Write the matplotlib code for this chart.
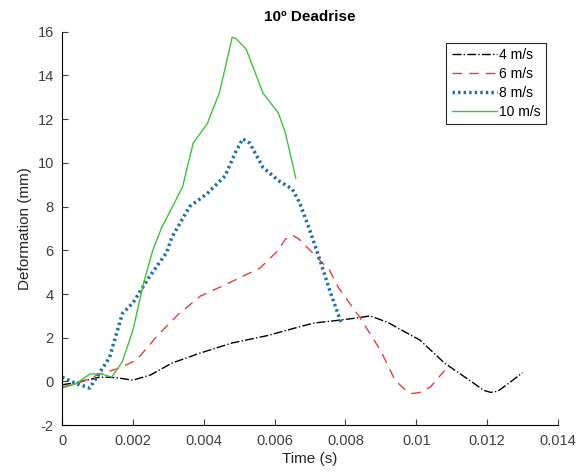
import matplotlib.pyplot as plt

plt.rcParams['font.family'] = ['Liberation Sans', 'DejaVu Sans']
plt.rcParams['axes.unicode_minus'] = False

# 4 m/s
t4 = [0, 0.0004, 0.0008, 0.00106, 0.0015, 0.002, 0.0025, 0.0031, 0.0039, 0.0048,
      0.0058, 0.0067, 0.0071, 0.0078, 0.0083, 0.0087, 0.0092, 0.0097, 0.0101, 0.0108,
      0.0115, 0.0119, 0.0121, 0.0123, 0.0126, 0.013]
d4 = [-0.15, -0.05, 0.1, 0.2, 0.18, 0.06, 0.3, 0.84, 1.3, 1.76,
      2.1, 2.5, 2.67, 2.8, 2.9, 3.0, 2.7, 2.25, 1.9, 0.84,
      0.06, -0.4, -0.5, -0.45, -0.1, 0.4]

# 6 m/s
t6 = [0, 0.0004, 0.0008, 0.00106, 0.0016, 0.0021, 0.00275, 0.0033, 0.0039, 0.0047,
      0.0056, 0.0061, 0.0063, 0.0065, 0.0067, 0.007, 0.00755, 0.0078, 0.0084, 0.009,
      0.0094, 0.0097, 0.0099, 0.0101, 0.0104, 0.0108]
d6 = [-0.25, -0.1, 0.15, 0.34, 0.6, 0.98, 2.2, 3.1, 3.9, 4.5,
      5.2, 6.0, 6.5, 6.7, 6.5, 6.0, 5.1, 4.3, 2.95, 1.4,
      0.06, -0.4, -0.55, -0.5, -0.25, 0.5]

# 8 m/s
t8 = [0, 0.0004, 0.00078, 0.00106, 0.00134, 0.0017, 0.002, 0.00247, 0.00295, 0.0031,
      0.0036, 0.0041, 0.0046, 0.0049, 0.0051, 0.0053, 0.00567, 0.0061, 0.0065, 0.0067,
      0.007, 0.00727, 0.00755, 0.0079]
d8 = [0.2, -0.1, -0.3, 0.4, 1.1, 3.1, 3.6, 4.8, 5.9, 6.6,
      8.0, 8.6, 9.4, 10.5, 11.1, 10.9, 9.8, 9.2, 8.8, 8.2,
      6.9, 5.6, 4.2, 2.6]

# 10 m/s
t10 = [0, 0.0004, 0.00078, 0.0011, 0.0014, 0.0017, 0.002, 0.0023, 0.00256, 0.0028,
       0.0034, 0.0037, 0.0041, 0.00444, 0.0047, 0.0048, 0.0049, 0.0052, 0.00567, 0.0061,
       0.0063, 0.0066]
d10 = [-0.3, -0.1, 0.34, 0.35, 0.2, 0.9, 2.35, 4.5, 6.0, 7.0,
       8.9, 10.9, 11.8, 13.2, 15.0, 15.75, 15.7, 15.2, 13.2, 12.3,
       11.4, 9.3]

fig = plt.figure(figsize=(5.86, 4.74), dpi=100)
ax = fig.add_axes([0.106, 0.103, 0.846, 0.83])

ax.plot(t4, d4, color='black', linestyle='-.', linewidth=1.0, label='4 m/s')
ax.plot(t6, d6, color='#e0403c', linestyle=(0, (7, 5)), linewidth=1.0, label='6 m/s')
ax.plot(t8, d8, color='#1f6ea6', linestyle=(0, (0.7, 0.9)), linewidth=2.5, label='8 m/s')
ax.plot(t10, d10, color='#3cc43c', linestyle='-', linewidth=1.0, label='10 m/s')

ax.set_xlim(0, 0.014)
ax.set_ylim(-2, 16)
ax.set_xticks([0, 0.002, 0.004, 0.006, 0.008, 0.01, 0.012, 0.014])
ax.set_xticklabels(['0', '0.002', '0.004', '0.006', '0.008', '0.01', '0.012', '0.014'])
ax.set_yticks(range(-2, 17, 2))
ax.spines['top'].set_visible(False)
ax.spines['right'].set_visible(False)
ax.tick_params(direction='in', labelsize=10.5, colors='#404040', length=4, pad=6)
ax.set_xlabel('Time (s)', fontsize=11, color='#262626', labelpad=3)
ax.set_ylabel('Deformation (mm)', fontsize=11, color='#262626', labelpad=4)
ax.set_title('10º Deadrise', fontsize=11, fontweight='bold', pad=8)

leg = ax.legend(loc='upper right', bbox_to_anchor=(0.99, 0.99), fontsize=10,
                handlelength=3.3, handletextpad=0.1, borderpad=0.4,
                labelspacing=0.35, fancybox=False, framealpha=1)
leg.get_frame().set_edgecolor('#262626')
leg.get_frame().set_linewidth(0.8)

fig.savefig('out.png', dpi=100)
